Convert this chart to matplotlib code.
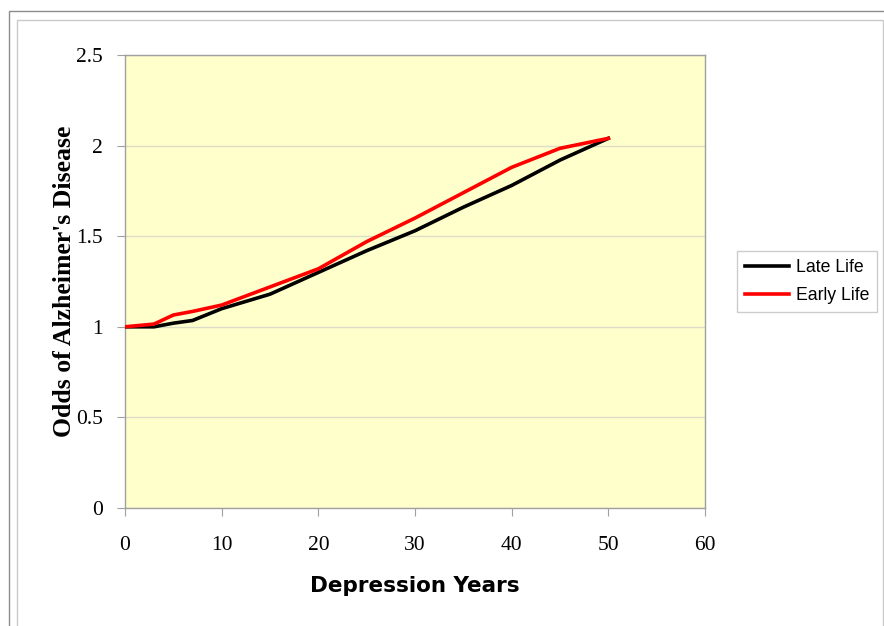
import matplotlib
matplotlib.use("Agg")
from matplotlib import pyplot as plt
from matplotlib.patches import Rectangle

years = [0, 3, 5, 7, 10, 15, 20, 25, 30, 35, 40, 45, 50]
late_life = [1.0, 1.0, 1.02, 1.035, 1.10, 1.18, 1.30, 1.42, 1.53, 1.66, 1.78, 1.92, 2.04]
early_life = [1.0, 1.015, 1.065, 1.085, 1.12, 1.22, 1.32, 1.47, 1.60, 1.74, 1.88, 1.985, 2.04]

x_ticks = [0, 10, 20, 30, 40, 50, 60]
y_ticks = [0, 0.5, 1, 1.5, 2, 2.5]

W, H = 884, 626
fig = plt.figure(figsize=(W / 100, H / 100), dpi=100)

# Double frame around the chart area
fig.add_artist(Rectangle((9 / W, -0.1), 1.2, (H - 11) / H + 0.1, transform=fig.transFigure,
                         fill=False, edgecolor="#8c8c8c", linewidth=1.0))
fig.add_artist(Rectangle((17 / W, -0.1), (883 - 17) / W, (H - 20) / H + 0.1,
                         transform=fig.transFigure, fill=False,
                         edgecolor="#c8c8c8", linewidth=1.0))

ax = fig.add_axes([125 / W, (H - 508) / H, (705 - 125) / W, (508 - 55) / H])
ax.set_facecolor("#ffffcc")

ax.plot(years, late_life, color="black", linewidth=2.6, label="Late Life", zorder=3)
ax.plot(years, early_life, color="red", linewidth=2.6, label="Early Life", zorder=3)

ax.set_xlim(0, 60)
ax.set_ylim(0, 2.5)
ax.set_xticks(x_ticks)
ax.set_yticks(y_ticks)
ax.set_xticklabels([str(v) for v in x_ticks])
ax.set_yticklabels([f"{v:g}" for v in y_ticks])
ax.yaxis.grid(True, color="#dcdcc8", linewidth=1.0)
ax.set_axisbelow(True)

for spine in ax.spines.values():
    spine.set_color("#a0a0a0")
    spine.set_linewidth(1.0)

ax.tick_params(axis="both", direction="out", length=6, color="#a0a0a0",
               labelsize=15.5)
for lbl in ax.get_xticklabels() + ax.get_yticklabels():
    lbl.set_fontfamily("Liberation Serif")
ax.tick_params(axis="y", pad=10)
ax.tick_params(axis="x", pad=14)

ax.set_ylabel("Odds of Alzheimer's Disease", fontfamily="Liberation Serif",
              fontweight="bold", fontsize=18.5, labelpad=0)
ax.set_xlabel("Depression Years", fontfamily="DejaVu Sans", fontweight="bold",
              fontsize=15.5, labelpad=15)

leg = ax.legend(loc="center left", bbox_to_anchor=(1.04, 0.5), frameon=True,
                fancybox=False, edgecolor="#c0c0c0", facecolor="white",
                prop={"family": "Liberation Sans", "size": 12.7},
                handlelength=2.5, handletextpad=0.4, borderpad=0.45,
                labelspacing=0.6)
leg.get_frame().set_linewidth(1.0)

fig.savefig("out.png", dpi=100)
